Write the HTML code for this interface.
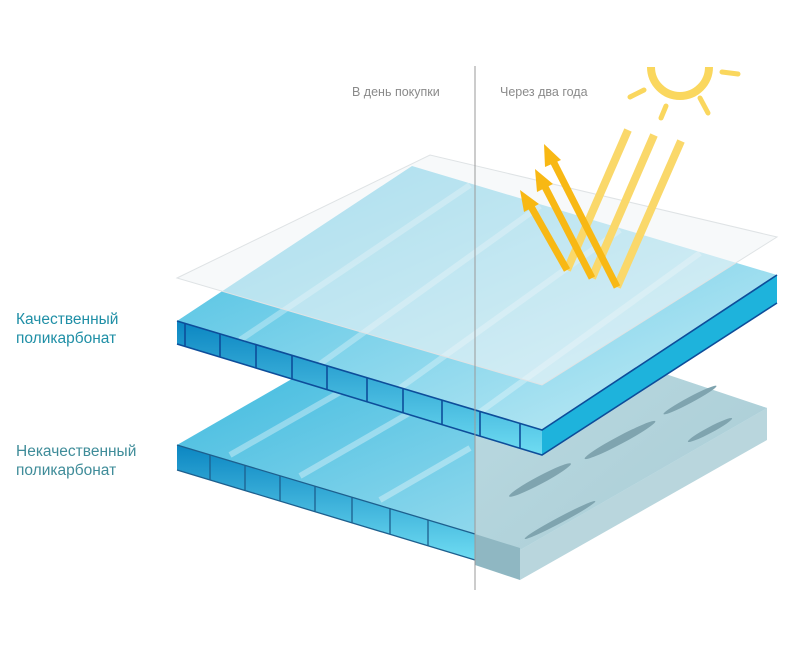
<!DOCTYPE html>
<html><head><meta charset="utf-8"><style>
body{margin:0;background:#fff;}
svg{display:block}
text{font-family:"Liberation Sans","DejaVu Sans",sans-serif}
</style></head><body>
<svg width="800" height="655" viewBox="0 0 800 655" xmlns="http://www.w3.org/2000/svg">
<defs>
<linearGradient id="cell" x1="0" y1="0" x2="0" y2="1"><stop offset="0" stop-color="#0b86c2"/><stop offset="1" stop-color="#6fdcf2"/></linearGradient>
<linearGradient id="top" x1="0" y1="0" x2="1" y2="1"><stop offset="0" stop-color="#2fb4dc"/><stop offset="1" stop-color="#b4e6f3"/></linearGradient>
<linearGradient id="top2" x1="0" y1="0" x2="1" y2="1"><stop offset="0" stop-color="#3dbbe0"/><stop offset="1" stop-color="#c8edf6"/></linearGradient>
<linearGradient id="bad" x1="0" y1="0" x2="1" y2="1"><stop offset="0" stop-color="#bcdbe2"/><stop offset="1" stop-color="#a9ccd5"/></linearGradient>
</defs>

<!-- bad panel -->
<polygon points="177,445 424,303 767,408 520,550" fill="url(#top)"/>
<polygon points="475,310 767,408 520,550 475,537" fill="url(#bad)"/>
<g stroke="#ffffff" stroke-opacity="0.35" stroke-width="6">
<line x1="230" y1="455" x2="470" y2="318"/><line x1="300" y1="476" x2="470" y2="378"/><line x1="380" y1="500" x2="470" y2="448"/>
</g>
<polygon points="177,445 475,534 475,560 177,470" fill="url(#cell)"/>
<polygon points="475,534 520,548 520,580 475,565" fill="#8fb7c2"/>
<polygon points="520,550 767,408 767,440 520,580" fill="#b9d6dd"/>
<g stroke="#1d5f8e" stroke-width="1.3">
<line x1="177" y1="445" x2="475" y2="534"/><line x1="177" y1="470" x2="475" y2="560"/>
<line x1="210" y1="455" x2="210" y2="480"/><line x1="245" y1="465" x2="245" y2="491"/>
<line x1="280" y1="476" x2="280" y2="501"/><line x1="315" y1="486" x2="315" y2="512"/>
<line x1="352" y1="497" x2="352" y2="523"/><line x1="390" y1="508" x2="390" y2="534"/>
<line x1="428" y1="520" x2="428" y2="546"/>
</g>
<g fill="#7fa4af">
<ellipse cx="540" cy="480" rx="35" ry="4" transform="rotate(-28 540 480)"/>
<ellipse cx="620" cy="440" rx="40" ry="4" transform="rotate(-28 620 440)"/>
<ellipse cx="690" cy="400" rx="30" ry="3" transform="rotate(-28 690 400)"/>
<ellipse cx="560" cy="520" rx="40" ry="3" transform="rotate(-28 560 520)"/>
<ellipse cx="710" cy="430" rx="25" ry="3" transform="rotate(-28 710 430)"/>
</g>

<!-- quality panel -->
<polygon points="177,321 412,166 777,275 542,430" fill="url(#top2)"/>
<g stroke="#ffffff" stroke-opacity="0.3" stroke-width="6">
<line x1="240" y1="340" x2="470" y2="185"/><line x1="320" y1="364" x2="540" y2="206"/><line x1="400" y1="388" x2="620" y2="230"/><line x1="480" y1="412" x2="700" y2="253"/>
</g>
<polygon points="177,321 542,430 542,455 177,344" fill="url(#cell)"/>
<polygon points="542,430 777,275 777,303 542,455" fill="#1eb3dc"/>
<g stroke="#0d4d9a" stroke-width="1.6" fill="none">
<polyline points="177,321 542,430 777,275"/>
<polyline points="177,344 542,455 777,303"/>
<line x1="185" y1="323" x2="185" y2="346"/><line x1="220" y1="334" x2="220" y2="357"/>
<line x1="256" y1="345" x2="256" y2="368"/><line x1="292" y1="355" x2="292" y2="379"/>
<line x1="327" y1="366" x2="327" y2="390"/><line x1="367" y1="378" x2="367" y2="402"/>
<line x1="403" y1="389" x2="403" y2="413"/><line x1="442" y1="400" x2="442" y2="425"/>
<line x1="480" y1="411" x2="480" y2="436"/><line x1="520" y1="423" x2="520" y2="448"/>
</g>

<!-- film -->
<polygon points="177,278 430,155 777,237 542,385" fill="#f2f5f6" fill-opacity="0.6" stroke="#dfe3e5" stroke-width="1"/>

<!-- divider -->
<line x1="475" y1="66" x2="475" y2="590" stroke="#9a9a9a" stroke-width="1"/>

<!-- sun -->
<path d="M651,67 A29,29 0 0 0 709,67" fill="none" stroke="#fad75e" stroke-width="8"/>
<g stroke="#fad75e" stroke-width="5" stroke-linecap="round">
<line x1="630" y1="97" x2="644" y2="90"/><line x1="666" y1="106" x2="661" y2="118"/>
<line x1="700" y1="98" x2="708" y2="113"/><line x1="722" y1="72" x2="738" y2="74"/>
</g>
<!-- beams -->
<g stroke="#fad86a" stroke-width="8">
<line x1="628" y1="130" x2="567" y2="270"/>
<line x1="654" y1="135" x2="592" y2="278"/>
<line x1="681" y1="141" x2="617" y2="287"/>
</g>
<g stroke="#f8b814" stroke-width="7">
<line x1="567" y1="270" x2="529" y2="203"/>
<line x1="592" y1="278" x2="543" y2="183"/>
<line x1="617" y1="287" x2="551" y2="157"/>
</g>
<g fill="#f8b814">
<polygon points="520,190 539,204 524,212"/>
<polygon points="535,169 553,184 537,192"/>
<polygon points="544,144 561,160 545,167"/>
</g>

<text x="352" y="96" font-size="12.5" fill="#8a8a8a">В день покупки</text>
<text x="500" y="96" font-size="12.5" fill="#8a8a8a">Через два года</text>
<text x="16" y="324" font-size="15.5" fill="#1f8fa6">Качественный</text>
<text x="16" y="343" font-size="15.5" fill="#1f8fa6">поликарбонат</text>
<text x="16" y="456" font-size="15.5" fill="#3f8c99">Некачественный</text>
<text x="16" y="475" font-size="15.5" fill="#3f8c99">поликарбонат</text>
</svg>
</body></html>
